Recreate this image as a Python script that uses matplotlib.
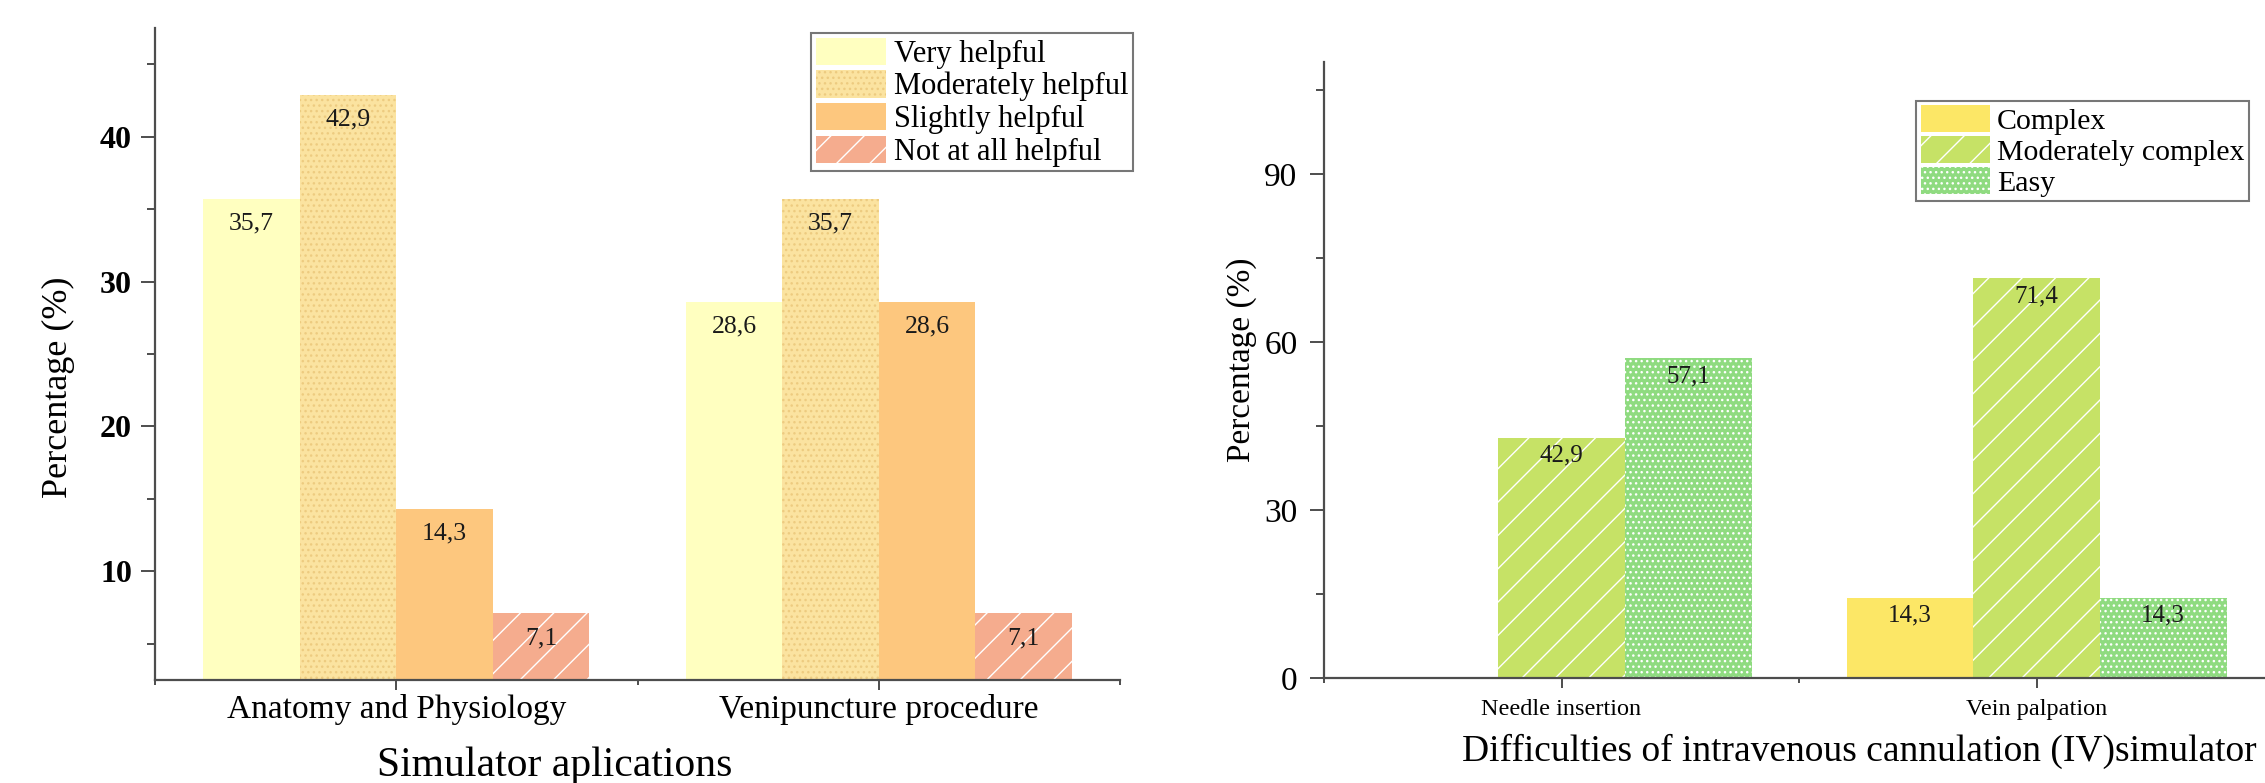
import matplotlib
matplotlib.use("Agg")
import matplotlib.pyplot as plt
from matplotlib.ticker import MultipleLocator
import numpy as np

plt.rcParams["font.family"] = ["Liberation Serif", "DejaVu Serif"]
plt.rcParams["hatch.linewidth"] = 1.0

# left chart: simulator applications
left_categories = ["Anatomy and Physiology", "Venipuncture procedure"]
left_series = ["Very helpful", "Moderately helpful", "Slightly helpful", "Not at all helpful"]
very_helpful = [35.7, 28.6]
moderately_helpful = [42.9, 35.7]
slightly_helpful = [14.3, 28.6]
not_helpful = [7.1, 7.1]

# right chart: difficulties of the IV simulator
right_categories = ["Needle insertion", "Vein palpation"]
right_series = ["Complex", "Moderately complex", "Easy"]
complex_vals = [0.0, 14.3]
moderately_complex = [42.9, 71.4]
easy_vals = [57.1, 14.3]

left_values = [very_helpful, moderately_helpful, slightly_helpful, not_helpful]
right_values = [complex_vals, moderately_complex, easy_vals]

left_styles = [
    dict(color="#FFFFC0", edgecolor="#FFFFC0", hatch=None),
    dict(color="#FBE3A0", edgecolor="#EDCB80", hatch="..."),
    dict(color="#FDC77E", edgecolor="#FDC77E", hatch=None),
    dict(color="#F5AC8E", edgecolor="#FFFFFF", hatch="/"),
]
right_styles = [
    dict(color="#FCE766", edgecolor="#FCE766", hatch=None),
    dict(color="#C6E266", edgecolor="#FFFFFF", hatch="/"),
    dict(color="#8FDB80", edgecolor="#FFFFFF", hatch="..."),
]

AXIS_COLOR = "#4d4d4d"


def fmt(v):
    return f"{v:.1f}".replace(".", ",")


def style_axes(ax):
    for side in ["top", "right"]:
        ax.spines[side].set_visible(False)
    for side in ["left", "bottom"]:
        ax.spines[side].set_color(AXIS_COLOR)
        ax.spines[side].set_linewidth(1.6)
    ax.tick_params(which="both", color=AXIS_COLOR, width=1.4, direction="out")
    ax.xaxis.set_minor_locator(MultipleLocator(0.5))


fig = plt.figure(figsize=(22.65, 7.83), dpi=100)

# ---------------- left ----------------
ax1 = fig.add_axes([155 / 2265, 1 - 680 / 783, 965 / 2265, 652 / 783])
x = np.arange(1, len(left_categories) + 1)
w = 0.2
for i, (name, vals, st) in enumerate(zip(left_series, left_values, left_styles)):
    pos = x + (i - 1.5) * w
    bars = ax1.bar(pos, vals, w, label=name, color=st["color"], edgecolor=st["edgecolor"],
                   hatch=st["hatch"], linewidth=0)
    for b, v in zip(bars, vals):
        ax1.annotate(fmt(v), (b.get_x() + b.get_width() / 2, v), xytext=(0, -10),
                     textcoords="offset points", ha="center", va="top",
                     fontsize=18.5, color="#1a1a1a")

ax1.set_xlim(0.5, 2.5)
ax1.set_ylim(2.5, 47.5)
ax1.set_xticks(x)
ax1.set_xticklabels(left_categories, fontsize=24)
ax1.yaxis.set_major_locator(MultipleLocator(10))
ax1.yaxis.set_minor_locator(MultipleLocator(5))
style_axes(ax1)
ax1.tick_params(axis="y", which="major", length=10, pad=6.5, labelsize=23)
ax1.tick_params(axis="y", which="minor", length=5.8)
ax1.tick_params(axis="x", which="major", length=7, pad=3)
ax1.tick_params(axis="x", which="minor", length=3.6)
for t in ax1.get_yticklabels():
    t.set_fontweight("bold")
ax1.set_ylabel("Percentage (%)", fontsize=26, va="center")
ax1.yaxis.set_label_coords(-0.1005, 0.449)
ax1.set_xlabel("Simulator aplications", fontsize=30, va="center")
ax1.xaxis.set_label_coords(0.4145, -0.132)

leg1 = ax1.legend(loc="upper right", bbox_to_anchor=(1133 / 2265, 1 - 33 / 783),
                  bbox_transform=fig.transFigure, borderaxespad=0, fontsize=22,
                  frameon=True, fancybox=False, handlelength=2.3, handleheight=1.0,
                  labelspacing=0.05, handletextpad=0.25, borderpad=0.15)
leg1.get_frame().set_edgecolor("#555555")
leg1.get_frame().set_linewidth(1.5)

# ---------------- right ----------------
ax2 = fig.add_axes([1324 / 2265, 1 - 678 / 783, 950 / 2265, 616 / 783])
x2 = np.arange(1, len(right_categories) + 1)
w2 = 0.8 / 3
for i, (name, vals, st) in enumerate(zip(right_series, right_values, right_styles)):
    pos = x2 + (i - 1) * w2
    bars = ax2.bar(pos, vals, w2, label=name, color=st["color"], edgecolor=st["edgecolor"],
                   hatch=st["hatch"], linewidth=0)
    for b, v in zip(bars, vals):
        if v <= 0:
            continue
        ax2.annotate(fmt(v), (b.get_x() + b.get_width() / 2, v), xytext=(0, -5),
                     textcoords="offset points", ha="center", va="top",
                     fontsize=18, color="#1a1a1a")

ax2.set_xlim(0.5, 2.5)
ax2.set_ylim(0, 110)
ax2.set_xticks(x2)
ax2.set_xticklabels(right_categories, fontsize=17.5)
ax2.yaxis.set_major_locator(MultipleLocator(30))
ax2.yaxis.set_minor_locator(MultipleLocator(15))
style_axes(ax2)
ax2.tick_params(axis="y", which="major", length=10, pad=9, labelsize=24)
ax2.tick_params(axis="y", which="minor", length=5.8)
ax2.tick_params(axis="x", which="major", length=7, pad=8)
ax2.tick_params(axis="x", which="minor", length=3.6)
ax2.set_ylabel("Percentage (%)", fontsize=24, va="center")
ax2.yaxis.set_label_coords(-0.0863, 0.516)
ax2.set_xlabel("Difficulties of intravenous cannulation (IV)simulator", fontsize=27, va="center")
ax2.xaxis.set_label_coords(0.563, -0.1185)

leg2 = ax2.legend(loc="upper right", bbox_to_anchor=(2249 / 2265, 1 - 100.7 / 783),
                  bbox_transform=fig.transFigure, borderaxespad=0, fontsize=21.5,
                  frameon=True, fancybox=False, handlelength=2.3, handleheight=1.0,
                  labelspacing=0.05, handletextpad=0.25, borderpad=0.15)
leg2.get_frame().set_edgecolor("#555555")
leg2.get_frame().set_linewidth(1.5)

fig.savefig("out.png", dpi=100)
